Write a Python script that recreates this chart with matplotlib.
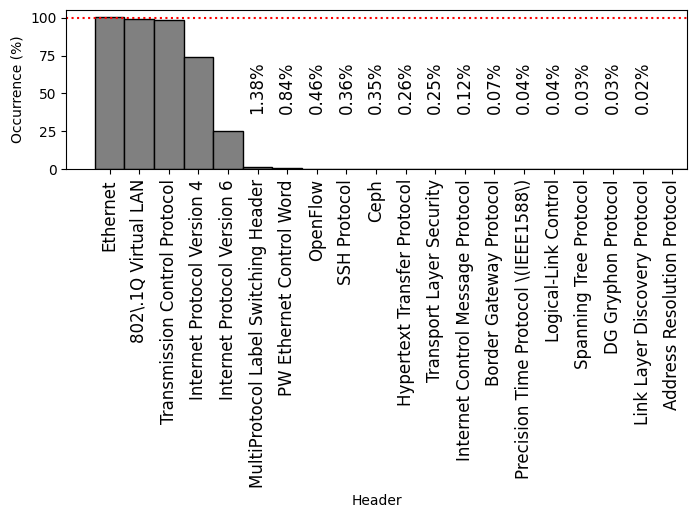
import numpy as np
import matplotlib; matplotlib.use('Agg'); import matplotlib.pyplot as plt

headers = ['Ethernet', '802\\.1Q Virtual LAN', 'Transmission Control Protocol',
           'Internet Protocol Version 4', 'Internet Protocol Version 6',
           'MultiProtocol Label Switching Header', 'PW Ethernet Control Word',
           'OpenFlow', 'SSH Protocol', 'Ceph', 'Hypertext Transfer Protocol',
           'Transport Layer Security', 'Internet Control Message Protocol',
           'Border Gateway Protocol', 'Precision Time Protocol \\(IEEE1588\\)',
           'Logical-Link Control', 'Spanning Tree Protocol', 'DG Gryphon Protocol',
           'Link Layer Discovery Protocol', 'Address Resolution Protocol']
occurrence = [100.4, 99.1, 98.5, 74.0, 25.5, 1.38, 0.84, 0.46, 0.36, 0.35,
              0.26, 0.25, 0.12, 0.07, 0.04, 0.04, 0.03, 0.03, 0.02, 0.005]
value_labels = ['', '', '', '', '', '1.38%', '0.84%', '0.46%', '0.36%', '0.35%',
                '0.26%', '0.25%', '0.12%', '0.07%', '0.04%', '0.04%', '0.03%',
                '0.03%', '0.02%', '']

fig = plt.figure(figsize=(6.95, 5.17), dpi=100)
ax = fig.add_axes([0.0954, 0.6725, 0.988 - 0.0954, 0.9807 - 0.6725])
x = np.arange(len(headers))
ax.bar(x, occurrence, width=1.0, color='grey', edgecolor='black')
ax.axhline(100, color='red', ls=':', lw=1.5)
for xi, lab in zip(x, value_labels):
    if lab:
        ax.text(xi, 53.5, lab, rotation=90, ha='center', va='center', fontsize=12)
ax.set_xticks(x)
ax.set_xticklabels(headers, rotation=90, fontsize=12)
ax.set_xlim(-1.46, 19.49)
ax.set_ylim(0, 105)
ax.set_yticks([0, 25, 50, 75, 100])
ax.set_ylabel('Occurrence (%)')
ax.set_xlabel('Header')
fig.savefig('out.png', dpi=100)
